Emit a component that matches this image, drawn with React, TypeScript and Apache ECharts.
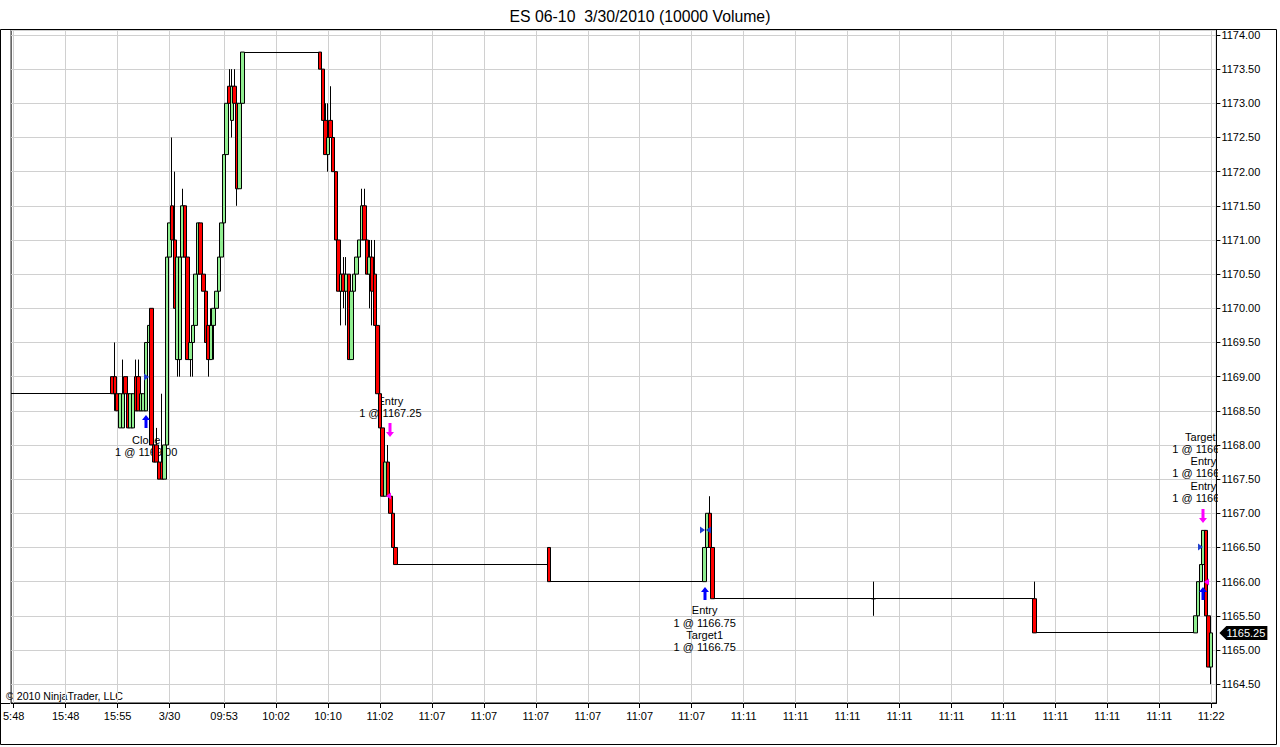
import { useEffect, useRef } from 'react';
import * as echarts from 'echarts';

const FONT = '"Liberation Sans", Arial, sans-serif';
const GRID_COLOR = '#d0d0d0';
const TITLE = 'ES 06-10  3/30/2010 (10000 Volume)';
const COPYRIGHT = '\u00a9 2010 NinjaTrader, LLC';

// number of bar slots on the category axis
const BAR_COUNT = 465;

// x-axis ticks (bar index) and their labels
const TICK_INDEX = [1, 21, 41, 61, 82, 102, 122, 142, 162, 182, 202, 222, 242, 262, 282, 302, 322, 342, 362, 382, 402, 422, 442, 462];
const TICK_LABELS = ['5:48', '15:48', '15:55', '3/30', '09:53', '10:02', '10:10', '11:02', '11:07', '11:07', '11:07', '11:07', '11:07', '11:07', '11:11', '11:11', '11:11', '11:11', '11:11', '11:11', '11:11', '11:11', '11:11', '11:22'];

// price range shown by the panel
const Y_MIN = 1164.224;
const Y_MAX = 1174.073;

// candles: [bar, open, close, low, high]
const BARS: number[][] = [
  [39, 1169.0, 1168.75, 1168.75, 1169.0],
  [40, 1169.0, 1168.75, 1168.5, 1169.5],
  [41, 1168.75, 1168.5, 1168.5, 1168.75],
  [42, 1168.25, 1168.75, 1168.25, 1168.75],
  [43, 1168.25, 1168.75, 1168.25, 1169.25],
  [44, 1169.0, 1168.75, 1168.75, 1169.0],
  [45, 1168.75, 1168.25, 1168.25, 1169.0],
  [46, 1168.25, 1168.75, 1168.25, 1168.75],
  [47, 1168.25, 1168.75, 1168.25, 1168.75],
  [48, 1169.0, 1168.5, 1168.5, 1169.25],
  [49, 1169.0, 1168.5, 1168.5, 1169.25],
  [50, 1168.5, 1168.75, 1168.5, 1168.75],
  [51, 1168.5, 1168.75, 1168.5, 1168.75],
  [52, 1168.5, 1169.5, 1168.5, 1169.5],
  [53, 1169.5, 1169.75, 1169.5, 1169.75],
  [54, 1170.0, 1168.0, 1168.0, 1170.0],
  [55, 1168.0, 1167.75, 1167.75, 1168.0],
  [56, 1168.0, 1167.75, 1167.75, 1168.25],
  [57, 1167.75, 1167.5, 1167.5, 1167.75],
  [58, 1167.75, 1167.5, 1167.5, 1168.75],
  [59, 1167.5, 1168.0, 1167.5, 1168.0],
  [60, 1168.0, 1170.75, 1168.0, 1170.75],
  [61, 1170.75, 1171.25, 1170.75, 1171.25],
  [62, 1171.5, 1171.0, 1171.0, 1172.5],
  [63, 1171.0, 1170.0, 1170.0, 1172.0],
  [64, 1169.25, 1170.75, 1169.0, 1170.75],
  [65, 1169.25, 1170.75, 1169.0, 1170.75],
  [66, 1170.75, 1171.5, 1170.75, 1171.75],
  [67, 1171.5, 1170.75, 1170.75, 1171.5],
  [68, 1170.75, 1169.25, 1169.25, 1170.75],
  [69, 1169.25, 1169.5, 1169.0, 1169.5],
  [70, 1169.5, 1169.75, 1169.0, 1169.75],
  [71, 1169.75, 1170.5, 1169.75, 1170.5],
  [72, 1170.5, 1171.25, 1170.5, 1171.25],
  [73, 1171.25, 1170.5, 1170.5, 1171.25],
  [74, 1170.5, 1170.25, 1170.25, 1170.5],
  [75, 1170.25, 1169.5, 1169.5, 1170.25],
  [76, 1169.75, 1169.25, 1169.0, 1169.75],
  [77, 1169.25, 1169.75, 1169.25, 1170.0],
  [78, 1169.75, 1170.0, 1169.25, 1170.0],
  [79, 1170.0, 1170.25, 1170.0, 1170.25],
  [80, 1170.25, 1170.75, 1170.25, 1170.75],
  [81, 1170.75, 1171.25, 1170.75, 1171.25],
  [82, 1171.25, 1172.25, 1171.25, 1172.25],
  [83, 1172.25, 1173.0, 1172.25, 1173.0],
  [84, 1173.25, 1173.0, 1173.0, 1173.5],
  [85, 1172.75, 1173.25, 1172.5, 1173.5],
  [86, 1173.25, 1173.0, 1173.0, 1173.5],
  [87, 1173.0, 1171.75, 1171.5, 1173.0],
  [88, 1171.75, 1173.0, 1171.75, 1173.0],
  [89, 1173.0, 1173.75, 1173.0, 1173.75],
  [119, 1173.75, 1173.5, 1173.5, 1173.75],
  [120, 1173.5, 1172.75, 1172.75, 1173.5],
  [121, 1172.75, 1172.25, 1172.25, 1173.0],
  [122, 1172.25, 1172.5, 1172.0, 1173.0],
  [123, 1172.75, 1172.5, 1172.5, 1173.25],
  [124, 1172.5, 1172.0, 1172.0, 1172.5],
  [125, 1172.0, 1171.0, 1171.0, 1172.0],
  [126, 1171.0, 1170.25, 1170.25, 1171.0],
  [127, 1170.25, 1170.5, 1169.75, 1170.75],
  [128, 1170.5, 1170.25, 1170.0, 1170.75],
  [129, 1170.25, 1170.5, 1169.75, 1170.75],
  [130, 1170.5, 1169.25, 1169.25, 1170.5],
  [131, 1169.25, 1170.25, 1169.25, 1170.25],
  [132, 1170.25, 1170.5, 1170.25, 1170.5],
  [133, 1170.5, 1170.75, 1170.5, 1170.75],
  [134, 1170.75, 1171.0, 1170.75, 1171.0],
  [135, 1171.0, 1171.5, 1171.0, 1171.75],
  [136, 1171.5, 1171.0, 1171.0, 1171.75],
  [137, 1171.0, 1170.5, 1170.5, 1171.0],
  [138, 1170.5, 1170.75, 1170.0, 1171.0],
  [139, 1170.75, 1170.25, 1169.75, 1171.0],
  [140, 1170.5, 1169.75, 1169.75, 1171.0],
  [141, 1169.75, 1168.75, 1168.75, 1169.75],
  [142, 1168.75, 1168.25, 1168.25, 1168.75],
  [143, 1168.25, 1167.25, 1167.25, 1168.25],
  [144, 1167.25, 1167.75, 1167.25, 1168.0],
  [145, 1167.75, 1167.25, 1167.25, 1168.0],
  [146, 1167.25, 1167.0, 1167.0, 1167.25],
  [147, 1167.0, 1166.5, 1166.5, 1167.0],
  [148, 1166.5, 1166.25, 1166.25, 1166.5],
  [207, 1166.5, 1166.0, 1166.0, 1166.5],
  [267, 1166.0, 1166.5, 1166.0, 1166.5],
  [268, 1166.5, 1167.0, 1166.5, 1167.0],
  [269, 1167.0, 1166.5, 1166.5, 1167.25],
  [270, 1166.5, 1165.75, 1165.75, 1166.5],
  [332, 1165.75, 1165.75, 1165.5, 1166.0],
  [394, 1165.75, 1165.25, 1165.25, 1166.0],
  [456, 1165.25, 1165.5, 1165.25, 1165.5],
  [457, 1165.5, 1166.0, 1165.5, 1166.0],
  [458, 1166.0, 1166.25, 1166.0, 1166.25],
  [459, 1166.25, 1166.75, 1166.25, 1166.75],
  [460, 1166.75, 1165.5, 1165.5, 1166.75],
  [461, 1165.5, 1164.75, 1164.75, 1165.5],
  [462, 1164.75, 1165.25, 1164.5, 1165.25],
];

// runs of flat bars (open = high = low = close): [firstBar, lastBar, price]
const FLAT_RUNS: number[][] = [
  [0, 38, 1168.75],
  [90, 118, 1173.75],
  [149, 206, 1166.25],
  [208, 266, 1166.0],
  [271, 393, 1165.75],
  [395, 455, 1165.25],
];

// order markers
const BUY_ARROWS: number[][] = [[52, 1168.44], [267, 1165.92], [459, 1165.92]]; // [bar, tip price]
const SELL_ARROWS: number[][] = [[146, 1168.12], [459, 1166.86]];
const FILLS_RIGHT: number[][] = [[53, 1169.0], [267, 1166.75], [459, 1166.5]]; // blue, pointing right
const FILLS_LEFT_BLUE: number[][] = [[267, 1166.75]];
const FILLS_LEFT_MAGENTA: number[][] = [[144, 1167.25], [459, 1166.0]];

// execution texts: [bar, price at top of block], lines
const NOTE_ANCHORS: number[][] = [[52, 1168.16], [146, 1168.72], [267, 1165.66], [459, 1168.2]];
const NOTE_TEXTS: string[] = [
  'Close\n1 @ 1169.00',
  'Entry\n1 @ 1167.25',
  'Entry\n1 @ 1166.75\nTarget1\n1 @ 1166.75',
  'Target1\n1 @ 1166.75\nEntry\n1 @ 1166.50\nEntry\n1 @ 1166.75',
];

const LAST_PRICE = 1165.25;

const TICK_SET = new Set(TICK_INDEX);
const CATEGORIES = Array.from({ length: BAR_COUNT }, (_, i) => {
  const k = TICK_INDEX.indexOf(i);
  return k >= 0 ? TICK_LABELS[k] : '';
});
const isTick = (i: number) => TICK_SET.has(i);

let measureCtx: CanvasRenderingContext2D | null = null;
function textWidth(s: string): number {
  if (!measureCtx) {
    measureCtx = document.createElement('canvas').getContext('2d');
    if (measureCtx) measureCtx.font = '11px "Liberation Sans"';
  }
  return measureCtx ? measureCtx.measureText(s).width : s.length * 6;
}
function fitPrefix(s: string, maxW: number): string {
  let t = s;
  while (t.length > 0 && textWidth(t) > maxW) t = t.slice(0, -1);
  return t;
}

function markerSeries(data: number[][], color: string, kind: string, z: number) {
  return {
    type: 'custom',
    data,
    z,
    clip: false,
    silent: true,
    renderItem: (params: any, api: any) => {
      const p = api.coord([api.value(0), api.value(1)]);
      const x = Math.round(p[0]);
      const y = Math.round(p[1]);
      let pts: number[][] = [];
      if (kind === 'up') {
        pts = [[x, y], [x + 4, y + 5], [x + 1.5, y + 5], [x + 1.5, y + 13], [x - 1.5, y + 13], [x - 1.5, y + 5], [x - 4, y + 5]];
      } else if (kind === 'down') {
        pts = [[x, y], [x + 4, y - 5], [x + 1.5, y - 5], [x + 1.5, y - 14], [x - 1.5, y - 14], [x - 1.5, y - 5], [x - 4, y - 5]];
      } else if (kind === 'right') {
        pts = [[x, y], [x - 5, y - 3.5], [x - 5, y + 3.5]];
      } else {
        pts = [[x + 1, y], [x + 6, y - 3.5], [x + 6, y + 3.5]];
      }
      return { type: 'polygon', shape: { points: pts }, style: { fill: color } };
    },
  };
}

export default function App() {
  const ref = useRef<HTMLDivElement>(null);
  useEffect(() => {
    document.body.style.margin = '0';
    const chart = echarts.init(ref.current!, undefined, { renderer: 'svg', width: 1280, height: 747 });
    const option: any = {
      animation: false,
      backgroundColor: '#ffffff',
      title: {
        text: TITLE,
        left: 'center',
        top: 3,
        textStyle: { fontFamily: FONT, fontSize: 15.8, fontWeight: 'normal', color: '#000' },
      },
      grid: {
        left: 10,
        top: 30,
        right: 63.6,
        bottom: 44,
        show: true,
        borderColor: '#000',
        borderWidth: 1,
        containLabel: false,
      },
      xAxis: {
        type: 'category',
        data: CATEGORIES,
        boundaryGap: false,
        axisLine: { show: true, lineStyle: { color: '#000', width: 1 } },
        axisTick: { show: true, interval: isTick, length: 5, lineStyle: { color: '#000' } },
        axisLabel: { interval: isTick, color: '#000', fontSize: 11, fontFamily: FONT, margin: 7 },
        splitLine: { show: true, interval: isTick, lineStyle: { color: GRID_COLOR, width: 1 } },
      },
      yAxis: {
        type: 'value',
        position: 'right',
        min: Y_MIN,
        max: Y_MAX,
        splitNumber: 20,
        minInterval: 0.5,
        maxInterval: 0.5,
        axisLine: { show: true, lineStyle: { color: '#000', width: 1 } },
        axisTick: { show: true, length: 4, lineStyle: { color: '#000' } },
        axisLabel: {
          showMinLabel: false,
          showMaxLabel: false,
          color: '#000',
          fontSize: 11,
          fontFamily: FONT,
          margin: 5,
          formatter: (v: number) => (Math.abs(v * 2 - Math.round(v * 2)) < 1e-6 ? v.toFixed(2) : ''),
        },
        splitLine: { show: true, lineStyle: { color: GRID_COLOR, width: 1 } },
      },
      series: [
        {
          type: 'custom',
          name: 'notes',
          data: NOTE_ANCHORS,
          z: 1,
          clip: true,
          silent: true,
          renderItem: (params: any, api: any) => {
            const p = api.coord([api.value(0), api.value(1)]);
            const clipRight = params.coordSys.x + params.coordSys.width;
            const lines = NOTE_TEXTS[params.dataIndex].split('\n');
            return {
              type: 'group',
              children: lines.map((ln, k) => {
                const left = p[0] - textWidth(ln) / 2;
                return {
                  type: 'text',
                  x: left,
                  y: p[1] + k * 12.2,
                  style: {
                    text: fitPrefix(ln, clipRight - left + 3),
                    fill: '#000',
                    fontSize: 11,
                    fontFamily: FONT,
                    align: 'left',
                    verticalAlign: 'top',
                  },
                };
              }),
            };
          },
        },
        {
          type: 'custom',
          name: 'flat',
          data: FLAT_RUNS,
          z: 2,
          clip: true,
          silent: true,
          renderItem: (params: any, api: any) => {
            const a = api.coord([api.value(0), api.value(2)]);
            const b = api.coord([api.value(1), api.value(2)]);
            const y = Math.floor(a[1]) + 0.5;
            return {
              type: 'line',
              shape: { x1: a[0] - 2, y1: y, x2: b[0] + 2, y2: y },
              style: { stroke: '#000', lineWidth: 1 },
            };
          },
        },
        {
          type: 'candlestick',
          name: 'ES 06-10',
          dimensions: ['bar', 'open', 'close', 'low', 'high'],
          encode: { x: 'bar', y: ['open', 'close', 'low', 'high'] },
          data: BARS,
          barWidth: 4,
          z: 3,
          itemStyle: {
            color: '#90EE90',
            color0: '#FF0000',
            borderColor: '#000',
            borderColor0: '#000',
            borderColorDoji: '#000',
            borderWidth: 1,
          },
        },
        markerSeries(BUY_ARROWS, '#0000FF', 'up', 5),
        markerSeries(SELL_ARROWS, '#FF00FF', 'down', 5),
        markerSeries(FILLS_RIGHT, '#1f3fd0', 'right', 5),
        markerSeries(FILLS_LEFT_BLUE, '#1f3fd0', 'left', 5),
        markerSeries(FILLS_LEFT_MAGENTA, '#FF00FF', 'left', 5),
        {
          type: 'custom',
          name: 'last',
          data: [[462, LAST_PRICE]],
          z: 6,
          clip: false,
          silent: true,
          renderItem: (params: any, api: any) => {
            const p = api.coord([api.value(0), api.value(1)]);
            const X = params.coordSys.x + params.coordSys.width;
            const y = Math.round(p[1]);
            return {
              type: 'group',
              children: [
                {
                  type: 'polygon',
                  shape: { points: [[X + 3, y], [X + 10, y - 7], [X + 51, y - 7], [X + 51, y + 7], [X + 10, y + 7]] },
                  style: { fill: '#000' },
                },
                {
                  type: 'text',
                  x: X + 10,
                  y: y,
                  style: { text: LAST_PRICE.toFixed(2), fill: '#fff', fontSize: 11, fontFamily: FONT, align: 'left', verticalAlign: 'middle' },
                },
              ],
            };
          },
        },
      ],
      graphic: [
        {
          type: 'rect',
          silent: true,
          z: 10,
          shape: { x: 0.5, y: 29.5, width: 1276, height: 715 },
          style: { fill: 'none', stroke: '#000', lineWidth: 1 },
        },
        {
          type: 'line',
          silent: true,
          z: 10,
          shape: { x1: 0, y1: 703.5, x2: 10, y2: 703.5 },
          style: { stroke: '#000', lineWidth: 1 },
        },
        {
          type: 'text',
          left: 6,
          top: 690,
          silent: true,
          style: { text: COPYRIGHT, fill: '#000', fontSize: 10.6, fontFamily: FONT },
        },
      ],
    };
    chart.setOption(option);
    return () => chart.dispose();
  }, []);
  return <div ref={ref} style={{ width: 1280, height: 747, background: '#fff' }} />;
}
